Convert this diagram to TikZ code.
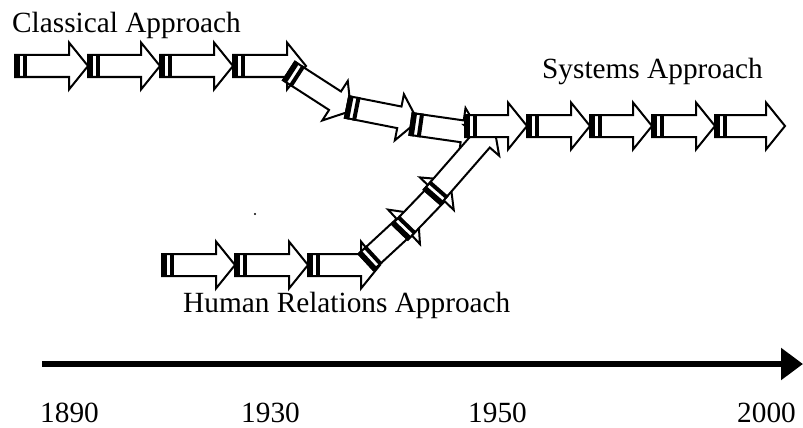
\documentclass[tikz,border=0pt]{standalone}
\usepackage{fontspec}
\setmainfont{Liberation Serif}
\usetikzlibrary{calc,arrows.meta}

\tikzset{
  segline/.style={draw=black, fill=white, line width=2pt, line join=miter},
  apptext/.style={font=\fontsize{29.3}{32}\selectfont, inner sep=0pt, anchor=base west},
  % one block-arrow segment: banded tail at the origin, tip at (#1,0)
  pics/seg/.style={code={
    \pgfmathsetmacro\segL{#1}
    \pgfmathsetmacro\segB{#1-19}
    \path[segline] (0,11) -- (\segB,11) -- (\segB,23.5) -- (\segL,0)
      -- (\segB,-23.5) -- (\segB,-11) -- (0,-11) -- cycle;
    \fill[black] (-1,-12) rectangle (4.5,12);
    \fill[black] (7.5,-12) rectangle (11.5,12);
  }}
}

% draw a segment from coordinate #1 (tail) to coordinate #2 (tip)
\newcommand\arrowseg[2]{%
  \path let \p1=($(#2)-(#1)$) in
    \pgfextra{\pgfmathsetmacro\segang{atan2(\y1,\x1)}%
              \pgfmathsetmacro\seglen{veclen(\x1,\y1)}%
              \global\let\segangG\segang\global\let\seglenG\seglen};
  \pic[rotate=\segangG] at (#1) {seg=\seglenG};
}

\begin{document}
\begin{tikzpicture}[x=1pt,y=-1pt]
\useasboundingbox (0,0) rectangle (803,428);

% classical approach
\coordinate (c0) at (15,66);
\coordinate (c1) at (88,66);
\coordinate (c2) at (160,66);
\coordinate (c3) at (233,66);
\coordinate (c4) at (306,66);
\coordinate (c5t) at (289,71);
\coordinate (c5) at (351,111);
\coordinate (c6t) at (347,107);
\coordinate (c6) at (418,121);
\coordinate (c7t) at (411,124);
\coordinate (c7) at (481,134);
\arrowseg{c0}{c1}
\arrowseg{c1}{c2}
\arrowseg{c2}{c3}
\arrowseg{c3}{c4}
\arrowseg{c5t}{c5}
\arrowseg{c6t}{c6}
\arrowseg{c7t}{c7}

% human relations approach
\coordinate (h0) at (162,265);
\coordinate (h1) at (235,265);
\coordinate (h2) at (308,265);
\coordinate (h3) at (380,265);
\coordinate (h4t) at (366,262);
\coordinate (h4) at (418,214);
\coordinate (h5t) at (400,232);
\coordinate (h5) at (450,180);
\coordinate (h6t) at (432,197);
\coordinate (h6) at (494,126);
\arrowseg{h0}{h1}
\arrowseg{h1}{h2}
\arrowseg{h2}{h3}
\arrowseg{h4t}{h4}
\arrowseg{h5t}{h5}
\arrowseg{h6t}{h6}

% systems approach
\coordinate (s0) at (465,126);
\coordinate (s1) at (527,126);
\coordinate (s2) at (590,126);
\coordinate (s3) at (652,126);
\coordinate (s4) at (715,126);
\coordinate (s5) at (785,126);
\arrowseg{s0}{s1}
\arrowseg{s1}{s2}
\arrowseg{s2}{s3}
\arrowseg{s3}{s4}
\arrowseg{s4}{s5}

\fill (255,214) circle (1.2);

% labels
\node[apptext] (classical) at (12,33) {Classical Approach};
\node[apptext] (systems) at (542,78) {Systems Approach};
\node[apptext] (human) at (183,312) {Human Relations Approach};

% time axis
\coordinate (t0) at (42,364);
\coordinate (t1) at (803,364);
\draw[line width=6pt, -{Triangle[length=22pt,width=31pt]}] (t0) -- (t1);
\node[apptext] (y1890) at (40,422) {1890};
\node[apptext] (y1930) at (241,422) {1930};
\node[apptext] (y1950) at (468,422) {1950};
\node[apptext] (y2000) at (737,422) {2000};
\end{tikzpicture}
\end{document}
